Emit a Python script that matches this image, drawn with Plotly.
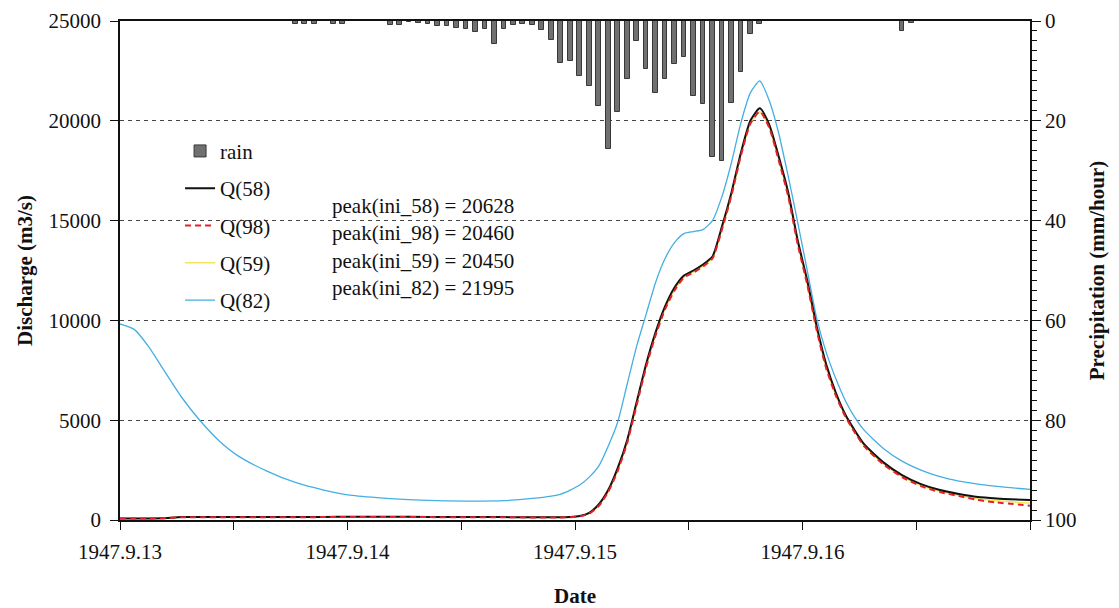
import plotly.graph_objects as go

# ---- time axis (hours after 1947-09-13 00:00) ----
day_ticks = [0, 12, 24, 36, 48, 60, 72, 84, 96]
day_labels = ["1947.9.13", "", "1947.9.14", "", "1947.9.15", "", "1947.9.16", "", ""]

# ---- hourly rainfall (mm/hour) ----
rain_hours = [18, 19, 20, 22, 23, 28, 29, 30, 31, 32, 33, 34, 35, 36, 37, 38, 39, 40,
              41, 42, 43, 44, 45, 46, 47, 48, 49, 50, 51, 52, 53, 54, 55, 56, 57, 58,
              59, 60, 61, 62, 63, 64, 65, 66, 67, 82, 83]
rain_mm = [0.6, 0.6, 0.5, 0.5, 0.6, 0.9, 0.9, 0.2, 0.4, 0.5, 1.1, 1.1, 1.5, 1.6, 2.3, 1.7, 4.7, 1.6,
           0.8, 0.5, 0.9, 1.9, 3.8, 8.5, 8.0, 11.0, 13.0, 17.0, 25.7, 18.2, 11.7, 4.1, 9.7, 14.4, 11.7, 8.7,
           7.2, 15.0, 16.6, 27.2, 28.0, 16.5, 10.2, 2.6, 0.6, 2.1, 0.3]

# ---- discharge samples (m3/s) ----
q_hours = [0, 1.5, 3.0, 4.5, 6.5, 8.5, 10.5, 12.5, 15.5, 18.5, 21.5, 24.5, 28.5, 32.5, 36.5,
           40.5, 43.5, 45.5, 46.5, 47.5, 48.5, 49.5, 50.5, 51.5, 52.5, 53.5, 54.5, 55.5,
           56.5, 57.5, 58.5, 59.5, 60.5, 61.5, 62.5, 63.5, 64.5, 65.5, 66.5, 67.5, 68.5,
           69.5, 70.5, 71.5, 72.5, 73.5, 74.5, 75.5, 76.5, 77.5, 78.5, 80.5, 82.5, 84.5,
           86.5, 88.5, 90.5, 92.5, 96]

q58 = [80, 80, 80, 90, 150, 150, 150, 150, 150, 150, 155, 160, 160, 155, 150,
       145, 140, 140, 140, 150, 200, 360, 780, 1500, 2600, 4000, 5900, 7800,
       9400, 10700, 11650, 12250, 12500, 12800, 13200, 14700, 16400, 18400, 20000, 20628, 19800,
       18200, 16400, 14000, 12000, 9700, 7800, 6400, 5300, 4500, 3800, 2900, 2250, 1800,
       1500, 1300, 1150, 1080, 1000]

q98 = [80, 80, 80, 90, 140, 140, 140, 140, 140, 140, 145, 150, 150, 145, 140,
       135, 130, 130, 130, 140, 180, 320, 700, 1400, 2450, 3850, 5750, 7650,
       9250, 10550, 11500, 12150, 12400, 12700, 13100, 14550, 16250, 18250, 19850, 20460, 19650,
       18000, 16200, 13800, 11800, 9500, 7600, 6250, 5200, 4400, 3700, 2800, 2150, 1700,
       1400, 1200, 1000, 880, 720]

q59 = [90, 90, 90, 100, 150, 150, 150, 150, 150, 150, 150, 155, 155, 150, 145,
       140, 135, 135, 135, 145, 185, 330, 720, 1420, 2480, 3880, 5780, 7680,
       9280, 10570, 11520, 12170, 12420, 12720, 13110, 14560, 16260, 18260, 19860, 20450, 19660,
       18020, 16220, 13820, 11820, 9520, 7620, 6270, 5220, 4420, 3720, 2820, 2180, 1730,
       1430, 1230, 1060, 960, 850]

q82 = [9820, 9550, 8700, 7600, 6150, 4950, 3950, 3200, 2450, 1880, 1500, 1230, 1070, 980, 950,
       970, 1080, 1200, 1300, 1500, 1750, 2150, 2700, 3700, 4900, 6800, 8700, 10300,
       11900, 13100, 13900, 14350, 14450, 14550, 15000, 16200, 17900, 19900, 21400, 21995, 21000,
       19350, 17200, 14900, 12500, 10100, 8400, 7100, 6000, 5150, 4500, 3600, 2950, 2500,
       2170, 1950, 1800, 1680, 1530]

peak_labels = ["peak(ini_58) = 20628", "peak(ini_98) = 20460",
               "peak(ini_59) = 20450", "peak(ini_82) = 21995"]

FONT = "Liberation Serif"

fig = go.Figure()

fig.add_trace(go.Bar(
    x=[h + 0.5 for h in rain_hours], y=rain_mm, yaxis="y2", name="rain",
    width=0.5, marker=dict(color="#707070", line=dict(color="#383838", width=1)),
    legendgroup="g0", legendrank=1))

# (name, values, line style, legend rank); drawn in list order
line_specs = [
    ("Q(82)", q82, dict(color="#45aee2", width=1.3), 5),
    ("Q(59)", q59, dict(color="#f4e65a", width=1.5), 4),
    ("Q(58)", q58, dict(color="#111111", width=2), 2),
    ("Q(98)", q98, dict(color="#e3202c", width=2, dash="6px,4px"), 3),
]
for name, vals, ln, rank in line_specs:
    fig.add_trace(go.Scatter(x=q_hours, y=vals, mode="lines", name=name,
                             line=dict(shape="spline", smoothing=0.6, **ln),
                             legendgroup=name, legendrank=rank))

for i, txt in enumerate(peak_labels):
    fig.add_annotation(text=txt, xref="paper", yref="paper", x=0.231,
                       y=0.629 - i * 0.0545, xanchor="left", yanchor="middle",
                       showarrow=False, font=dict(family=FONT, size=21, color="#111"))

fig.update_layout(
    width=1119, height=608,
    margin=dict(l=120, r=89, t=21, b=88, autoexpand=False),
    paper_bgcolor="white", plot_bgcolor="white",
    font=dict(family=FONT, size=21, color="#111"),
    bargap=0,
    showlegend=True,
    legend=dict(x=0.066, y=0.78, xanchor="left", yanchor="top",
                bgcolor="rgba(0,0,0,0)", font=dict(family=FONT, size=21),
                traceorder="grouped", tracegroupgap=7, itemwidth=30),
    xaxis=dict(range=[0, 96], tickmode="array", tickvals=day_ticks, ticktext=day_labels,
               ticks="outside", ticklen=8, tickcolor="#111", showline=True,
               linecolor="#111", linewidth=1.5, mirror=True, showgrid=False,
               zeroline=False, automargin=False, ticklabelstandoff=4,
               title=dict(text="<b>Date</b>", font=dict(family=FONT, size=21), standoff=28)),
    yaxis=dict(range=[0, 25000], dtick=5000, tickformat="d", ticks="outside", ticklen=8,
               tickcolor="#111", showline=True, linecolor="#111", linewidth=1.5,
               showgrid=True, gridcolor="#444", griddash="4px,4px", gridwidth=1,
               zeroline=False, automargin=False, ticklabelstandoff=5,
               title=dict(text="<b>Discharge (m3/s)</b>", font=dict(family=FONT, size=21),
                          standoff=10)),
    yaxis2=dict(range=[100, 0], dtick=20, overlaying="y", side="right", ticks="outside",
                ticklen=9, tickcolor="#111", showline=True, linecolor="#111",
                linewidth=1.5, showgrid=False, zeroline=False, automargin=False,
                minor=dict(dtick=2, ticks="outside", ticklen=5, tickcolor="#111"),
                title=dict(text="<b>Precipitation (mm/hour)</b>",
                           font=dict(family=FONT, size=21), standoff=14)),
)

fig.write_html("out.html")
